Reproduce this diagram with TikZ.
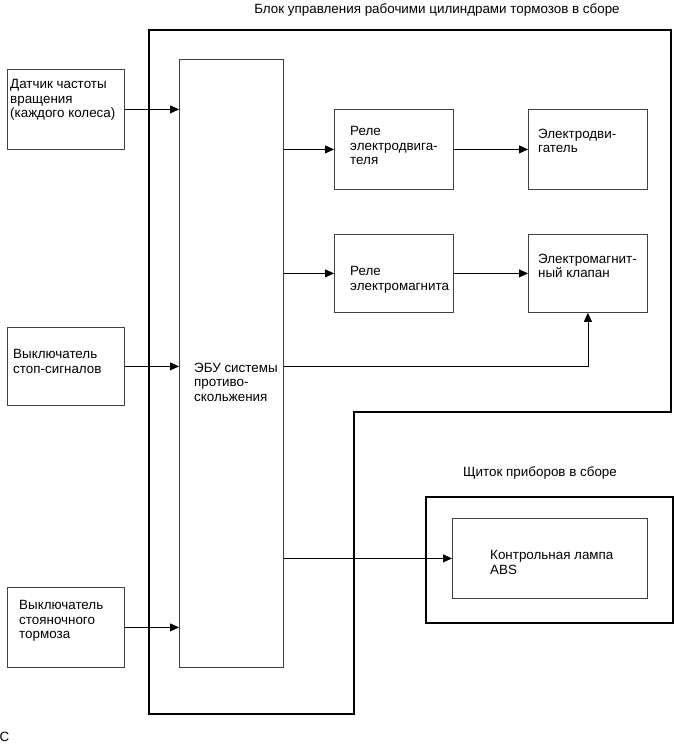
\documentclass[tikz,border=0pt]{standalone}
\usepackage{fontspec}
\setmainfont{Liberation Sans}
\usetikzlibrary{positioning,arrows.meta}

\begin{document}
\begin{tikzpicture}[x=1pt,y=-1pt,>={Triangle[length=9pt,width=8pt]},
  blk/.style={draw=black!75,line width=0.8pt,inner sep=0pt,anchor=north west},
  frm/.style={draw,line width=1.8pt},
  lbl/.style={inner sep=0pt,font=\fontsize{13.4}{14.5}\selectfont},
  txt/.style={lbl,anchor=north west,yshift=3.5pt,align=left},
  con/.style={->,line width=0.8pt}]
\useasboundingbox (0,0) rectangle (674,745);
% frames
\draw[frm] (149,30) -- (671,30) -- (671,412) -- (354,412) -- (354,714) -- (149,714) -- cycle;
\node[frm,inner sep=0pt,anchor=north west,minimum width=247pt,minimum height=126pt] (panel) at (425,496) {};
\node[lbl] (ttl) at (437,10) {Блок управления рабочими цилиндрами тормозов в сборе};
\node[lbl] (panelttl) at (540,473) {Щиток приборов в сборе};
% blocks
\node[blk,minimum width=117pt,minimum height=80pt] (sens) at (7,69) {};
\node[blk,minimum width=117pt,minimum height=78pt] (stop) at (7,327) {};
\node[blk,minimum width=117pt,minimum height=80pt] (park) at (7,587) {};
\node[blk,minimum width=104pt,minimum height=608pt] (ecu) at (179,59) {};
\node[blk,minimum width=119pt,minimum height=80pt] (rel1) at (334,109) {};
\node[blk,minimum width=119pt,minimum height=80pt] (mot) at (528,109) {};
\node[blk,minimum width=119pt,minimum height=78pt] (rel2) at (334,234) {};
\node[blk,minimum width=119pt,minimum height=78pt] (valve) at (528,234) {};
\node[blk,minimum width=195pt,minimum height=80pt] (lamp) at (452,518) {};
% texts
\node[txt] (sensT) at (10,83) {Датчик частоты\\вращения\\(каждого колеса)};
\node[txt] (stopT) at (13,353) {Выключатель\\стоп-сигналов};
\node[txt] (parkT) at (19,604) {Выключатель\\стояночного\\тормоза};
\node[txt] (ecuT) at (194,366) {ЭБУ системы\\противо-\\скольжения};
\node[txt] (rel1T) at (350,130) {Реле\\электродвига-\\теля};
\node[txt] (motT) at (538,132) {Электродви-\\гатель};
\node[txt] (rel2T) at (350,270) {Реле\\электромагнита};
\node[txt] (valveT) at (538,257) {Электромагнит-\\ный клапан};
\node[txt] (lampT) at (490,554) {Контрольная лампа\\ABS};
\node[lbl] (fig) at (4.5,737) {C};
% connectors
\draw[con] (sens) -- (sens -| ecu.west);
\draw[con] (stop) -- (stop -| ecu.west);
\draw[con] (park) -- (park -| ecu.west);
\draw[con] (rel1 -| ecu.east) -- (rel1);
\draw[con] (rel1) -- (mot);
\draw[con] (rel2 -| ecu.east) -- (rel2);
\draw[con] (rel2) -- (valve);
\draw[con] (stop -| ecu.east) -| (valve.south);
\draw[con] (lamp -| ecu.east) -- (lamp);
\end{tikzpicture}
\end{document}
